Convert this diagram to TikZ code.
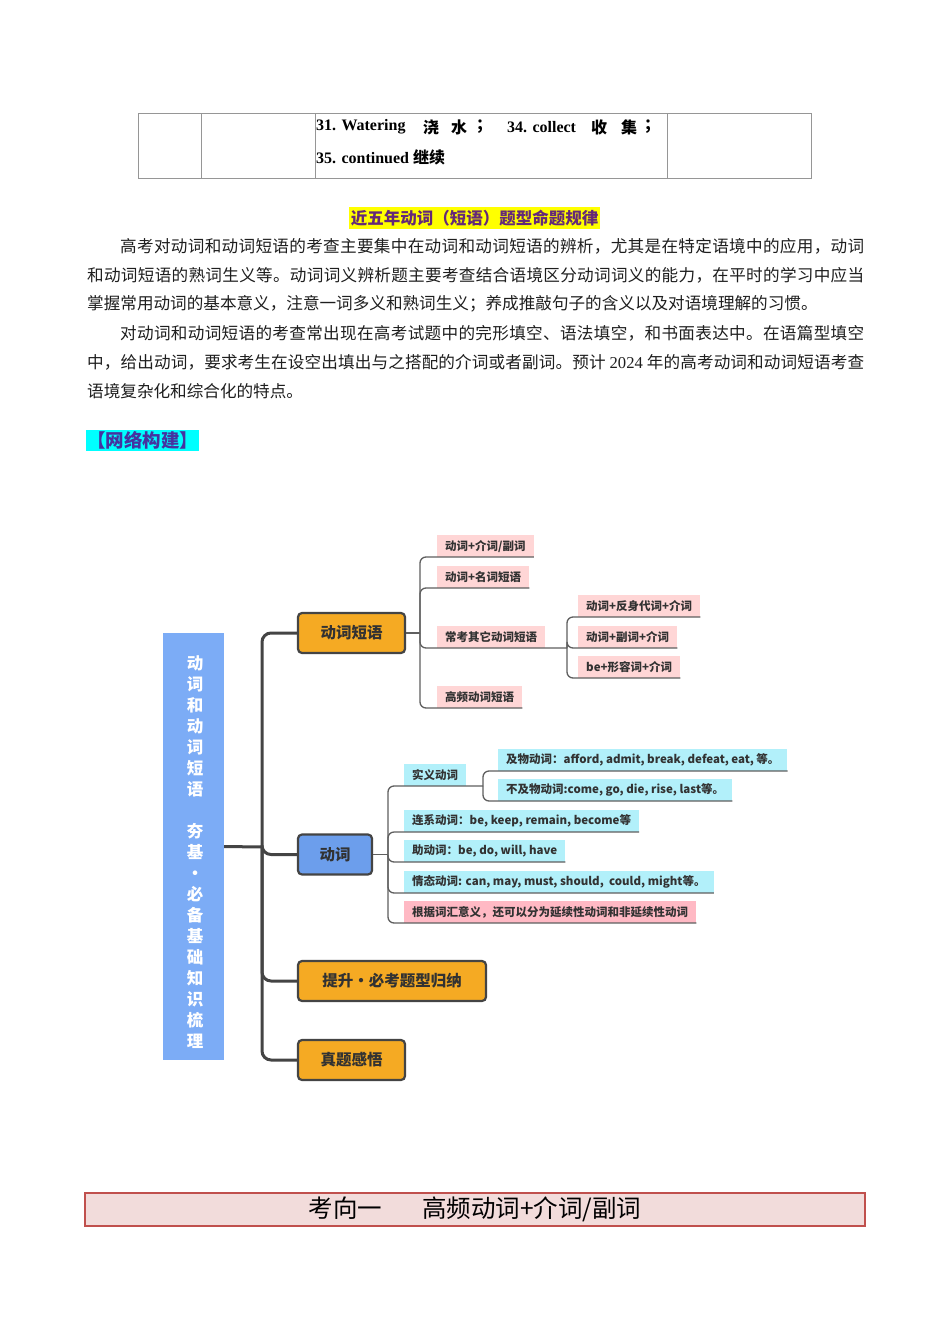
\documentclass[tikz,border=0pt]{standalone}
\usepackage{fontspec}
\setmainfont{Noto Sans CJK SC}
\newfontfamily\tnr{Liberation Serif}
% stretchable glue between CJK characters (for justified lines)
\newcount\cjkcnt
\newXeTeXintercharclass\cjkcls
\cjkcnt="3000
\loop \XeTeXcharclass\cjkcnt=\cjkcls \advance\cjkcnt by 1 \ifnum\cjkcnt<"3040 \repeat
\cjkcnt="4E00
\loop \XeTeXcharclass\cjkcnt=\cjkcls \advance\cjkcnt by 1 \ifnum\cjkcnt<"A000 \repeat
\cjkcnt="FF00
\loop \XeTeXcharclass\cjkcnt=\cjkcls \advance\cjkcnt by 1 \ifnum\cjkcnt<"FFF0 \repeat
\XeTeXinterchartoks\cjkcls\cjkcls={\hskip 0pt plus 2pt\relax}
\XeTeXinterchartokenstate=1
\definecolor{tblgray}{RGB}{150,150,150}
\definecolor{headyel}{RGB}{255,255,0}
\definecolor{headtxt}{RGB}{100,40,120}
\definecolor{netcyan}{RGB}{0,255,255}
\definecolor{nettxt}{RGB}{70,50,160}
\definecolor{paratxt}{RGB}{30,30,30}
\definecolor{rootblue}{RGB}{124,172,246}
\definecolor{verbblue}{RGB}{108,158,236}
\definecolor{orangebox}{RGB}{245,170,35}
\definecolor{boxline}{RGB}{68,68,68}
\definecolor{brline}{RGB}{95,95,95}
\definecolor{pinkitem}{RGB}{255,214,214}
\definecolor{pinkdeep}{RGB}{255,185,196}
\definecolor{cyanitem}{RGB}{178,240,250}
\definecolor{itemtxt}{RGB}{50,50,50}
\definecolor{botfill}{RGB}{242,220,219}
\definecolor{botline}{RGB}{192,80,77}
\begin{document}
\begin{tikzpicture}[x=1pt,y=-1pt,
  tbl/.style={draw=tblgray,line width=0.9pt},
  tcell/.style={inner sep=0pt,anchor=west,font=\fontsize{16}{18}\selectfont\bfseries},
  para/.style={inner sep=0pt,anchor=west,text=paratxt,font=\fontsize{16.6}{18}\selectfont},
  topbox/.style={draw=boxline,line width=2.2pt,rounded corners=4pt,fill=orangebox,
    text=itemtxt,font=\fontsize{15.5}{17}\selectfont\bfseries,minimum height=40pt,inner sep=0pt},
  item/.style={inner xsep=8pt,inner ysep=0pt,minimum height=21.5pt,anchor=south west,
    text=itemtxt,font=\fontsize{11.5}{13}\selectfont\bfseries},
  pitem/.style={item,fill=pinkitem},
  citem/.style={item,fill=cyanitem},
  trunk/.style={draw=boxline,line width=3pt,rounded corners=9pt},
  br/.style={draw=brline,line width=1.3pt,rounded corners=6pt}
]
\useasboundingbox (0,0) rectangle (950,1344);
\fill[white] (0,0) rectangle (950,1344);

% ---- table ----
\draw[tbl] (138,113) rectangle (811,178);
\draw[tbl] (201,113) -- (201,178) (315,113) -- (315,178) (667,113) -- (667,178);
\node[tcell] (t1) at (316,127) {\tnr 31. Watering};
\node[tcell] (t2) at (423,127) {浇};
\node[tcell] (t3) at (451,127) {水};
\node[tcell] (t4) at (476,127) {；};
\node[tcell] (t5) at (507,127) {\tnr 34. collect};
\node[tcell] (t6) at (591,127) {收};
\node[tcell] (t7) at (621,127) {集};
\node[tcell] (t8) at (644,127) {；};
\node[tcell] (t9) at (316,157) {{\tnr 35. continued }继续};

% ---- heading ----
\node[fill=headyel,text=headtxt,inner xsep=2pt,inner ysep=1pt,font=\fontsize{16.5}{18}\selectfont\bfseries,minimum height=22pt]
  (head) at (474.5,218) {近五年动词（短语）题型命题规律};

% ---- paragraphs ----
\node[para] (p1) at (120,246) {\makebox[744pt][s]{高考对动词和动词短语的考查主要集中在动词和动词短语的辨析，尤其是在特定语境中的应用，动词}};
\node[para] (p2) at (87,275) {\makebox[777pt][s]{和动词短语的熟词生义等。动词词义辨析题主要考查结合语境区分动词词义的能力，在平时的学习中应当}};
\node[para] (p3) at (87,304) {掌握常用动词的基本意义，注意一词多义和熟词生义；养成推敲句子的含义以及对语境理解的习惯。};
\node[para] (p4) at (120,333) {\makebox[744pt][s]{对动词和动词短语的考查常出现在高考试题中的完形填空、语法填空，和书面表达中。在语篇型填空}};
\node[para] (p5) at (87,362) {\makebox[777pt][s]{中，给出动词，要求考生在设空出填出与之搭配的介词或者副词。预计\hspace{4pt}{\tnr 2024}\hspace{4pt}年的高考动词和动词短语考查}};
\node[para] (p6) at (87,391) {语境复杂化和综合化的特点。};

% ---- network label ----
\node[fill=netcyan,text=nettxt,inner xsep=1pt,inner ysep=0pt,minimum height=21pt,anchor=west,
  font=\fontsize{18.5}{20}\selectfont\bfseries] (net) at (86,440.5) {【网络构建】};

% ---- mind map ----
\node[fill=rootblue,minimum width=61pt,minimum height=427pt,inner sep=0pt] (root) at (193.5,846.5) {};
\node[text=white,align=center,inner sep=0pt,font=\fontsize{16.5}{21}\selectfont\bfseries] (roottxt) at (195,852)
  {动\\词\\和\\动\\词\\短\\语\\\mbox{}\\夯\\基\\・\\必\\备\\基\\础\\知\\识\\梳\\理};

\node[topbox,minimum width=107pt] (dp) at (351.5,633) {动词短语};
\node[topbox,minimum width=74pt,fill=verbblue] (dc) at (335,854.5) {动词};
\node[topbox,minimum width=188pt] (ts) at (392,981) {提升・必考题型归纳};
\node[topbox,minimum width=107pt] (zt) at (351.5,1060) {真题感悟};

\coordinate (tj) at (262,847);
\draw[trunk] (root.east) -- (tj);
\draw[trunk] (tj) |- (dp.west);
\draw[trunk] (tj) |- (dc.west);
\draw[trunk] (tj) |- (ts.west);
\draw[trunk] (tj) |- (zt.west);

% verb phrase children
\node[pitem] (c1) at (437,557) {动词+介词/副词};
\node[pitem] (c2) at (437,588) {动词+名词短语};
\node[pitem] (c3) at (437,648) {常考其它动词短语};
\node[pitem] (c4) at (437,708) {高频动词短语};
\node[pitem] (s1) at (578,617) {动词+反身代词+介词};
\node[pitem] (s2) at (578,648) {动词+副词+介词};
\node[pitem] (s3) at (578,678) {be+形容词+介词};

\coordinate (dpj) at (420,633);
\coordinate (sj) at (567,648);
\draw[br] (dp.east) -- (dpj);
\draw[br] (dpj) |- (c1.south east);
\draw[br] (dpj) |- (c2.south east);
\draw[br] (dpj) |- (sj);
\draw[br] (dpj) |- (c4.south east);
\draw[br] (sj) |- (s1.south east);
\draw[br] (sj) |- (s2.south east);
\draw[br] (sj) |- (s3.south east);

% verb children
\node[citem] (v1) at (404,786) {实义动词};
\node[citem] (v1a) at (498,771) {及物动词：afford, admit, break, defeat, eat, 等。};
\node[citem] (v1b) at (498,801) {不及物动词:come, go, die, rise, last等。};
\node[citem] (v2) at (404,832) {连系动词：be, keep, remain, become等};
\node[citem] (v3) at (404,862) {助动词：be, do, will, have};
\node[citem] (v4) at (404,893) {情态动词: can, may, must, should,\ \ could, might等。};
\node[item,fill=pinkdeep] (v5) at (404,923) {根据词汇意义，还可以分为延续性动词和非延续性动词};

\coordinate (dcj) at (388,854.5);
\coordinate (v1j) at (483,786);
\draw[br] (dc.east) -- (dcj);
\draw[br] (dcj) |- (v1j);
\draw[br] (v1j) |- (v1a.south east);
\draw[br] (v1j) |- (v1b.south east);
\draw[br] (dcj) |- (v2.south east);
\draw[br] (dcj) |- (v3.south east);
\draw[br] (dcj) |- (v4.south east);
\draw[br] (dcj) |- (v5.south east);

% ---- bottom title ----
\node[draw=botline,fill=botfill,line width=2pt,minimum width=780pt,minimum height=33pt,inner sep=0pt,
  font=\fontsize{24.5}{26}\selectfont] (bot) at (475,1209.5) {考向一\hspace{40pt}高频动词+介词/副词};
\end{tikzpicture}
\end{document}
